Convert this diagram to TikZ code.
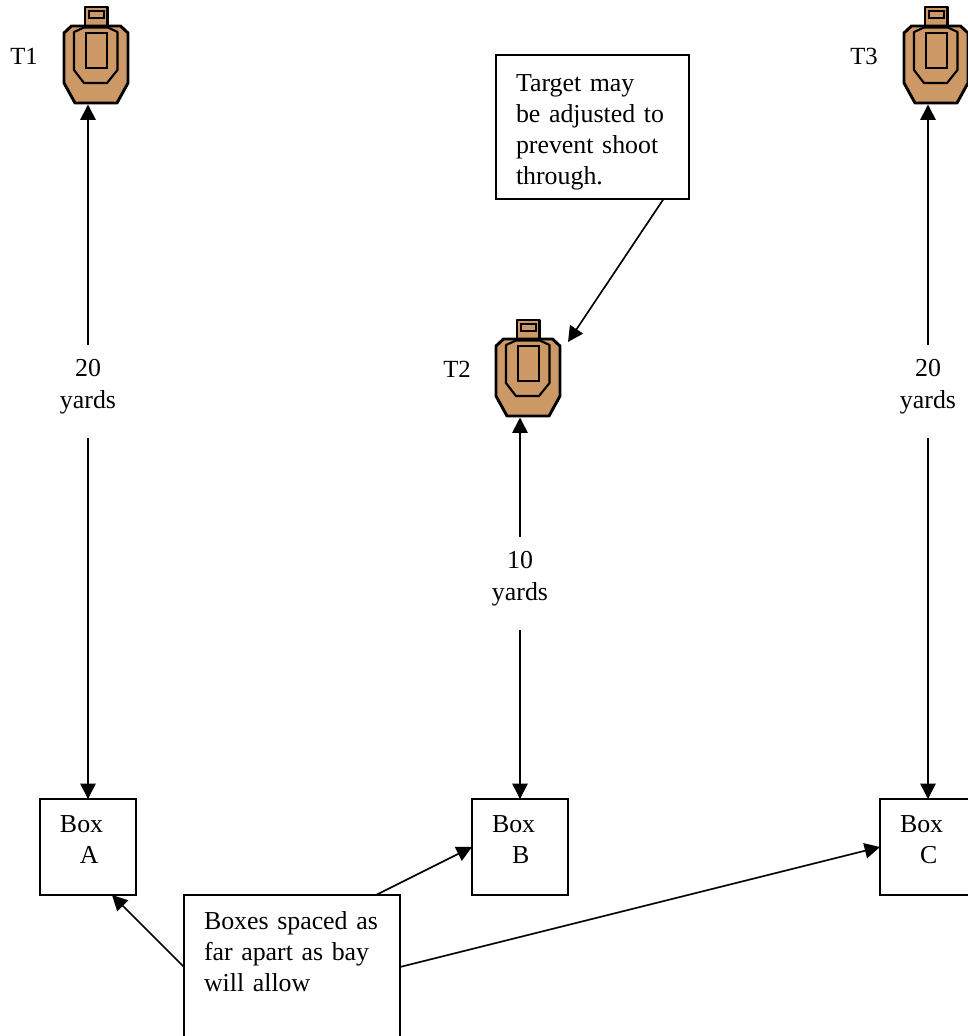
\documentclass[tikz,border=0pt]{standalone}
\usepackage{fontspec}
\setmainfont{Liberation Serif}
\usetikzlibrary{calc}
\usetikzlibrary{arrows.meta}

\definecolor{targetTan}{HTML}{CC9966}

\tikzset{
  >={Triangle[length=11.5pt,width=11.5pt]},
  line/.style = {line width = 1.25pt},
  boxed/.style = {draw, line width = 1.5pt, fill = white, anchor = north west, outer sep = 0pt,
    align = left, inner xsep = 15pt, inner ysep = 0pt, font = \fontsize{19.4}{23.25}\selectfont},
  dist/.style = {fill = white, align = center, inner sep = 0pt, minimum height = 69.75pt,
    minimum width = 48pt, font = \fontsize{19.4}{23.5}\selectfont},
  tag/.style = {inner sep = 0pt, font = \fontsize{18.5}{23}\selectfont},
  shooter/.pic = {
    \draw[line width = 2pt, fill = targetTan, line join = round]
      (-11,7) rectangle (11.5,26);
    \draw[line width = 1.5pt] (-7.5,11) rectangle (7.5,17.5);
    \draw[line width = 2.2pt, fill = targetTan, line join = round]
      (-24.5,26) -- (24.5,26) -- (32,33) -- (32,83) -- (21,103) -- (-21,103)
      -- (-32,83) -- (-32,33) -- cycle;
    \draw[line width = 1.6pt, line join = round]
      (-22,32) -- (-12,27.5) -- (12,27.5) -- (21.5,32) -- (21.5,70) -- (11,83)
      -- (-12,83) -- (-22,70) -- cycle;
    \draw[line width = 1.5pt] (-10.5,32.5) rectangle (10.5,68);
    \coordinate (-tip) at (-8,104.5);
  }
}

\begin{document}
\begin{tikzpicture}[x = .75pt, y = -.75pt]
  \useasboundingbox (0,0) rectangle (968,1036);

% targets
  \pic (tgtA) at (96,0) {shooter};
  \pic (tgtB) at (528,313) {shooter};
  \pic (tgtC) at (936,0) {shooter};
  \node[tag] (nameA) at (24,56) {T1};
  \node[tag] (nameB) at (457,369) {T2};
  \node[tag] (nameC) at (864,56) {T3};

% boxes
  \node[boxed, minimum width = 72pt, minimum height = 72pt, text width = 42pt] (boxA) at (40,799)
    {Box\\\hspace{15pt}A\\[-12.75pt]\mbox{}};
  \node[boxed, minimum width = 72pt, minimum height = 72pt, text width = 42pt] (boxB) at (472,799)
    {Box\\\hspace{15pt}B\\[-12.75pt]\mbox{}};
  \node[boxed, minimum width = 72pt, minimum height = 72pt, text width = 42pt] (boxC) at (880,799)
    {Box\\\hspace{15pt}C\\[-12.75pt]\mbox{}};

% distances
  \draw[line, <->] (tgtA-tip) -- (boxA.north -| tgtA-tip);
  \draw[line, <->] (tgtB-tip) -- (boxB.north -| tgtB-tip);
  \draw[line, <->] (tgtC-tip) -- (boxC.north -| tgtC-tip);
  \node[dist] (distA) at (88,391) {20\\yards\\[-13pt]\mbox{}};
  \node[dist] (distB) at (520,583) {10\\yards\\[-13pt]\mbox{}};
  \node[dist] (distC) at (928,391) {20\\yards\\[-13pt]\mbox{}};

% notes
  \node[boxed, minimum width = 144.75pt, minimum height = 108pt, text width = 114.75pt] (adjust) at (496,55)
    {\rule{0pt}{21pt}Target may\\be adjusted to\\prevent shoot\\through.};
  \node[boxed, minimum width = 162pt, minimum height = 108pt, text width = 132pt] (spacing) at (184,895)
    {Boxes spaced as\\far apart as bay\\will allow\\\mbox{}};

  \coordinate (hitB) at (568,342);
  \coordinate (cornerA) at (112,895);
  \draw[line, ->] ($(adjust.south west)!.868!(adjust.south east)$) -- (hitB);
  \draw[line, ->] (spacing.west) -- (cornerA);
  \draw[line, ->] ($(spacing.north west)!.889!(spacing.north east)$) -- (boxB.west);
  \draw[line, ->] (spacing.east) -- (boxC.west);
\end{tikzpicture}
\end{document}
